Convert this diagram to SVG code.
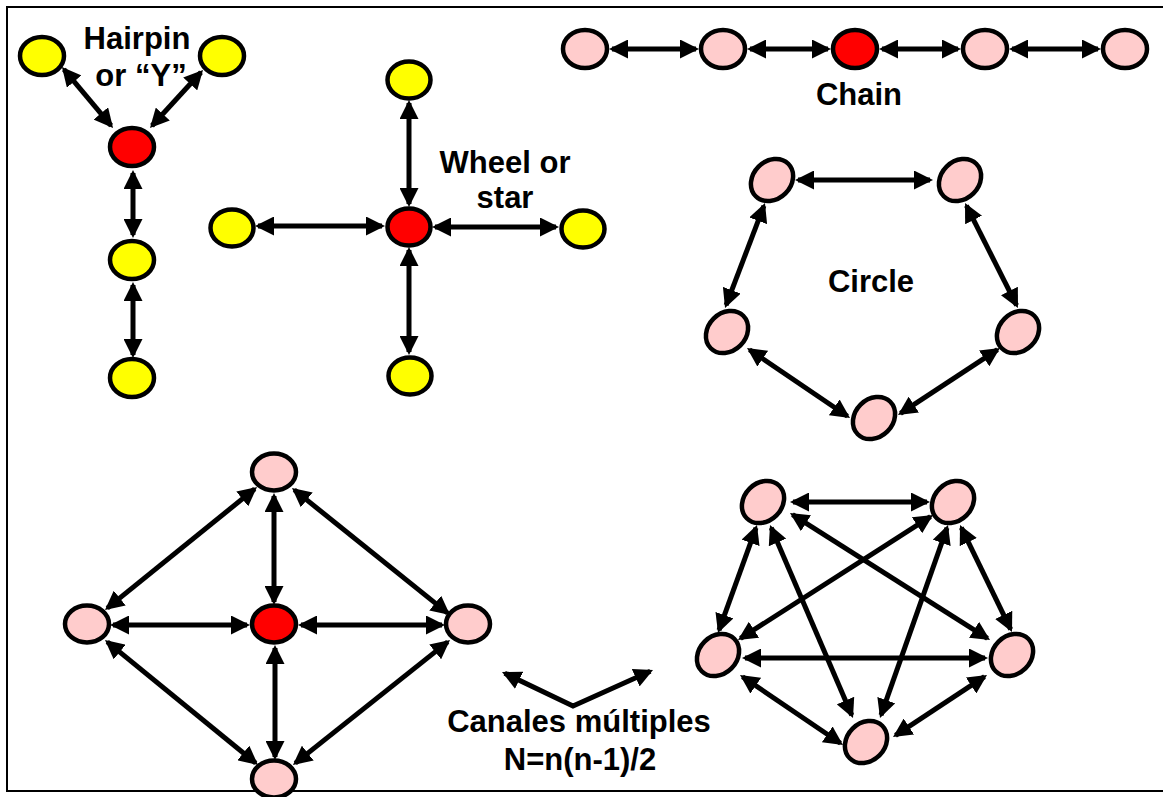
<svg xmlns="http://www.w3.org/2000/svg" width="1163" height="797" viewBox="0 0 1163 797">
<style>
.n{stroke:#000;stroke-width:4.5}
.y{fill:#FFFF00}.r{fill:#FF0000}.p{fill:#FFCCCC}
.c line,.c polyline{stroke:#000;stroke-width:5;fill:none;marker-start:url(#ah);marker-end:url(#ah)}
text{font-family:"Liberation Sans",Arial,sans-serif;font-weight:bold;font-size:31px;fill:#000;text-anchor:middle}
</style>
<defs>
<marker id="ah" viewBox="0 0 19 19" refX="16" refY="9.5" markerWidth="19" markerHeight="19" markerUnits="userSpaceOnUse" orient="auto-start-reverse"><path d="M0,0 L19,9.5 L0,19 z" fill="#000"/></marker>
</defs>
<rect x="7" y="7" width="1170" height="784" fill="#fff" stroke="#000" stroke-width="2"/>
<g id="connectors" class="c">
<line x1="63.9" y1="69.3" x2="111.1" y2="125.7"/>
<line x1="201" y1="72.2" x2="152" y2="125.8"/>
<line x1="133" y1="173" x2="133" y2="235"/>
<line x1="133" y1="285" x2="133" y2="355"/>
<line x1="409" y1="103" x2="409" y2="204"/>
<line x1="258" y1="226" x2="382" y2="226"/>
<line x1="435" y1="227" x2="556" y2="227"/>
<line x1="409" y1="250" x2="409" y2="352"/>
<line x1="612" y1="49" x2="696" y2="49"/>
<line x1="750" y1="49" x2="828" y2="49"/>
<line x1="882" y1="49" x2="958" y2="49"/>
<line x1="1012" y1="49" x2="1098" y2="49"/>
<line x1="798" y1="180" x2="930" y2="180"/>
<line x1="763.9" y1="205.8" x2="726.1" y2="305.2"/>
<line x1="966.4" y1="205.7" x2="1016.6" y2="305.3"/>
<line x1="749.5" y1="349.7" x2="847.5" y2="416.3"/>
<line x1="997.5" y1="349.6" x2="900.5" y2="413.4"/>
<line x1="254.7" y1="488.9" x2="107.3" y2="608.1"/>
<line x1="274" y1="496" x2="274" y2="602"/>
<line x1="294.3" y1="489.9" x2="447.7" y2="613.1"/>
<line x1="113" y1="625" x2="247" y2="625"/>
<line x1="301" y1="625" x2="442" y2="625"/>
<line x1="107.3" y1="641.9" x2="255.7" y2="763.1"/>
<line x1="275" y1="648" x2="275" y2="757"/>
<line x1="447.7" y1="641.9" x2="295.3" y2="763.1"/>
<line x1="793" y1="502" x2="927" y2="502"/>
<line x1="756" y1="527.8" x2="719" y2="630.2"/>
<line x1="961.3" y1="527.7" x2="1010.7" y2="629.3"/>
<line x1="742.5" y1="676.7" x2="840.5" y2="743.3"/>
<line x1="984.5" y1="676.7" x2="895.5" y2="735.3"/>
<line x1="745" y1="658" x2="985" y2="658"/>
<line x1="771.2" y1="527.8" x2="851.8" y2="715.2"/>
<line x1="947" y1="527.8" x2="881" y2="715.2"/>
<line x1="792.5" y1="514.6" x2="987.5" y2="638.4"/>
<line x1="930.5" y1="516.6" x2="740.5" y2="638.4"/>
<polyline points="504.7,673.3 573,706 650.3,671.2"/>
</g>
<g id="hairpin">
<ellipse id="h-tl" class="n y" cx="42" cy="56" rx="22" ry="19"/>
<ellipse id="h-tr" class="n y" cx="222" cy="56" rx="22" ry="19"/>
<ellipse id="h-c" class="n r" cx="132" cy="147" rx="22" ry="19"/>
<ellipse id="h-b1" class="n y" cx="132" cy="260" rx="22" ry="19"/>
<ellipse id="h-b2" class="n y" cx="132" cy="378" rx="22" ry="19"/>
<text x="137" y="49">Hairpin</text>
<text x="141" y="86">or “Y”</text>
</g>
<g id="wheel">
<ellipse id="w-t" class="n y" cx="409" cy="80" rx="21.5" ry="18.5"/>
<ellipse id="w-l" class="n y" cx="232" cy="228" rx="21.5" ry="18.5"/>
<ellipse id="w-c" class="n r" cx="409" cy="227" rx="21.5" ry="18.5"/>
<ellipse id="w-r" class="n y" cx="583" cy="229" rx="21.5" ry="18.5"/>
<ellipse id="w-b" class="n y" cx="410" cy="376" rx="21.5" ry="18.5"/>
<text x="505" y="173">Wheel or</text>
<text x="505" y="208">star</text>
</g>
<g id="chain">
<ellipse id="c1" class="n p" cx="585" cy="49" rx="22" ry="19"/>
<ellipse id="c2" class="n p" cx="723" cy="49" rx="22" ry="19"/>
<ellipse id="c3" class="n r" cx="855" cy="49" rx="22" ry="19"/>
<ellipse id="c4" class="n p" cx="985" cy="49" rx="22" ry="19"/>
<ellipse id="c5" class="n p" cx="1125" cy="49" rx="22" ry="19"/>
<text x="859" y="105">Chain</text>
</g>
<g id="circle">
<ellipse id="ci-tl" class="n p" cx="772" cy="180" rx="23" ry="19" transform="rotate(-45 772 180)"/>
<ellipse id="ci-tr" class="n p" cx="960" cy="180" rx="23" ry="19" transform="rotate(-45 960 180)"/>
<ellipse id="ci-l" class="n p" cx="727" cy="332" rx="23" ry="19" transform="rotate(-45 727 332)"/>
<ellipse id="ci-r" class="n p" cx="1018" cy="332" rx="23" ry="19" transform="rotate(-45 1018 332)"/>
<ellipse id="ci-b" class="n p" cx="874" cy="418" rx="23" ry="19" transform="rotate(-45 874 418)"/>
<text x="871" y="292">Circle</text>
</g>
<g id="diamond">
<ellipse id="d-t" class="n p" cx="274" cy="472" rx="22" ry="18.5"/>
<ellipse id="d-l" class="n p" cx="87" cy="624" rx="22" ry="18.5"/>
<ellipse id="d-c" class="n r" cx="274" cy="624" rx="22" ry="18.5"/>
<ellipse id="d-r" class="n p" cx="468" cy="624" rx="22" ry="18.5"/>
<ellipse id="d-b" class="n p" cx="274" cy="779" rx="22" ry="18.5"/>
</g>
<g id="allchannel">
<ellipse id="a-tl" class="n p" cx="763" cy="502" rx="23" ry="19" transform="rotate(-45 763 502)"/>
<ellipse id="a-tr" class="n p" cx="953" cy="502" rx="23" ry="19" transform="rotate(-45 953 502)"/>
<ellipse id="a-l" class="n p" cx="718" cy="655" rx="23" ry="19" transform="rotate(-45 718 655)"/>
<ellipse id="a-r" class="n p" cx="1012" cy="655" rx="23" ry="19" transform="rotate(-45 1012 655)"/>
<ellipse id="a-b" class="n p" cx="866" cy="742" rx="23" ry="19" transform="rotate(-45 866 742)"/>
</g>
<g id="label-canales">
<text x="579" y="732">Canales múltiples</text>
<text x="580" y="770">N=n(n-1)/2</text>
</g>
</svg>
